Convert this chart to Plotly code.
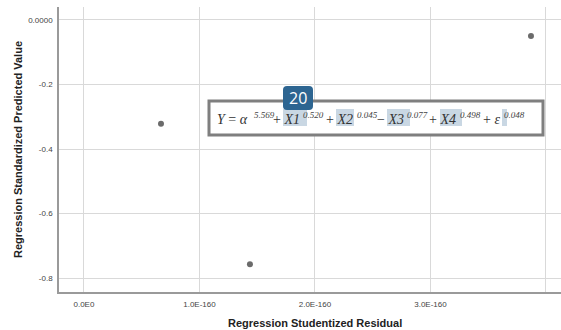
import plotly.graph_objects as go

# Data (x in units of 1E-160)
x_residual_e160 = [0.667, 1.437, 3.87]
y_predicted = [-0.322, -0.757, -0.050]

x_tick_vals = [0, 1, 2, 3, 4]
x_tick_text = ["0.0E0", "1.0E-160", "2.0E-160", "3.0E-160", "4.0E-160"]
y_tick_vals = [0, -0.2, -0.4, -0.6, -0.8]
y_tick_text = ["0.0000", "-0.2", "-0.4", "-0.6", "-0.8"]

W, H = 561, 330
L, R, T, B = 59, 0, 7, 38
PW = W - L - R
PH = H - T - B


def px(xs):
    return (xs - L) / PW


def py(ys):
    return (H - B - ys) / PH


fig = go.Figure()
fig.add_trace(go.Scatter(
    x=x_residual_e160, y=y_predicted, mode="markers",
    marker=dict(color="#6b6b6b", size=6), showlegend=False, hoverinfo="skip"))

grid = "#d9d9d9"
tickfont = dict(family="Liberation Sans, Arial, sans-serif", size=8, color="#444444")
fig.update_xaxes(range=[-0.216, 4.13], tickvals=x_tick_vals, ticktext=x_tick_text,
                 showgrid=True, gridcolor=grid, gridwidth=1, zeroline=False,
                 showline=True, linecolor="#9a9a9a", linewidth=1.5,
                 ticks="", tickfont=tickfont, ticklabelstandoff=4)
fig.update_yaxes(range=[-0.843, 0.040], tickvals=y_tick_vals, ticktext=y_tick_text,
                 showgrid=True, gridcolor=grid, gridwidth=1, zeroline=False,
                 showline=True, linecolor="#9a9a9a", linewidth=1.5,
                 ticks="", tickfont=tickfont, ticklabelstandoff=3)

shapes = []
# equation box
shapes.append(dict(type="rect", xref="paper", yref="paper",
                   x0=px(209), x1=px(543), y0=py(135), y1=py(101),
                   line=dict(color="#7f7f7f", width=3), fillcolor="white", layer="above"))
# selection highlights
for a, b in [(283, 307), (336, 354), (387, 410), (440, 462), (502, 507)]:
    shapes.append(dict(type="rect", xref="paper", yref="paper",
                       x0=px(a), x1=px(b), y0=py(126), y1=py(109),
                       line=dict(width=0), fillcolor="#c9d7e3", layer="above"))
# badge rounded rect
bx0, bx1, by0, by1, rr = 283, 313, 86, 110, 4
path = (f"M {px(bx0+rr)},{py(by0)} L {px(bx1-rr)},{py(by0)} "
        f"Q {px(bx1)},{py(by0)} {px(bx1)},{py(by0+rr)} "
        f"L {px(bx1)},{py(by1-rr)} Q {px(bx1)},{py(by1)} {px(bx1-rr)},{py(by1)} "
        f"L {px(bx0+rr)},{py(by1)} Q {px(bx0)},{py(by1)} {px(bx0)},{py(by1-rr)} "
        f"L {px(bx0)},{py(by0+rr)} Q {px(bx0)},{py(by0)} {px(bx0+rr)},{py(by0)} Z")
shapes.append(dict(type="path", xref="paper", yref="paper", path=path,
                   line=dict(width=0), fillcolor="#2d6591", layer="above"))

ann = []
serif = "Liberation Serif, Times New Roman, serif"
main = dict(family=serif, size=14, color="#333333")
sup = dict(family=serif, size=9, color="#444444")
MY, SY = 119, 115
chunks = [
    ("<i>Y</i> = <i>α</i>", 216, main, MY),
    ("<i>5.569</i>", 253, sup, SY),
    ("+ <i>X1</i>", 272, main, MY),
    ("<i>0.520</i>", 302, sup, SY),
    ("+ <i>X2</i>", 325, main, MY),
    ("<i>0.045</i>", 356, sup, SY),
    ("− <i>X3</i>", 376, main, MY),
    ("<i>0.077</i>", 406, sup, SY),
    ("+ <i>X4</i>", 428, main, MY),
    ("<i>0.498</i>", 459, sup, SY),
    ("+ <i>ε</i>", 482, main, MY),
    ("<i>0.048</i>", 503, sup, SY),
]
for txt, xl, f, yc in chunks:
    ann.append(dict(text=txt, xref="paper", yref="paper", x=px(xl), y=py(yc),
                    xanchor="left", yanchor="middle", showarrow=False, font=f,
                    borderpad=0))
ann.append(dict(text="20", xref="paper", yref="paper", x=px(298), y=py(98),
                xanchor="center", yanchor="middle", showarrow=False,
                font=dict(family="Open Sans, sans-serif", size=16, color="white")))
titlefont = dict(family="Liberation Sans, Arial, sans-serif", size=11, color="#222222")
ann.append(dict(text="<b>Regression Studentized Residual</b>", xref="paper", yref="paper",
                x=px(315), y=py(323), xanchor="center", yanchor="middle",
                showarrow=False, font=titlefont))
ann.append(dict(text="<b>Regression Standardized Predicted Value</b>", xref="paper", yref="paper",
                x=px(18), y=py(150), xanchor="center", yanchor="middle", textangle=-90,
                showarrow=False, font=titlefont))

fig.update_layout(width=W, height=H, margin=dict(l=L, r=R, t=T, b=B),
                  plot_bgcolor="white", paper_bgcolor="white",
                  shapes=shapes, annotations=ann)

fig.write_html("out.html", config={"displayModeBar": False},
               post_script="document.body.style.margin='0';"
                           "document.documentElement.style.overflow='hidden';")
